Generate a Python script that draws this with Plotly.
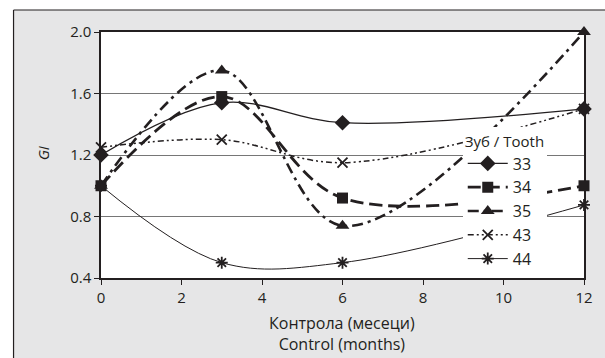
import plotly.graph_objects as go

months = [0, 3, 6, 12]
tooth_names = ["33", "34", "35", "43", "44"]
gi_33 = [1.20, 1.54, 1.41, 1.50]
gi_34 = [1.00, 1.58, 0.92, 1.00]
gi_35 = [1.00, 1.75, 0.74, 2.00]
gi_43 = [1.25, 1.30, 1.15, 1.50]
gi_44 = [1.00, 0.50, 0.50, 0.875]
x_ticks = [0, 2, 4, 6, 8, 10, 12]
y_ticks = [0.4, 0.8, 1.2, 1.6, 2.0]

ink = "#231f20"
gray_bg = "#e6e6e7"
styles = {
    "33": dict(line=dict(color=ink, width=1.3, dash="solid"),
               marker=dict(symbol="diamond", size=12, color=ink)),
    "34": dict(line=dict(color=ink, width=2.8, dash="13px,6px"),
               marker=dict(symbol="square", size=11, color=ink)),
    "35": dict(line=dict(color=ink, width=2.6, dash="11px,5px,3px,5px"),
               marker=dict(symbol="triangle-up", size=12, color=ink)),
    "43": dict(line=dict(color=ink, width=1.5, dash="6px,3px,2px,3px,2px,3px"),
               marker=dict(symbol="x-thin-open", size=10, color=ink, line=dict(width=1.8, color=ink))),
    "44": dict(line=dict(color=ink, width=1.0, dash="solid"),
               marker=dict(symbol="asterisk-open", size=10, color=ink, line=dict(width=1.8, color=ink))),
}
series = [gi_33, gi_34, gi_35, gi_43, gi_44]

fig = go.Figure()
for name, vals in zip(tooth_names, series):
    st = styles[name]
    fig.add_trace(go.Scatter(
        x=months, y=vals, name=name, mode="lines+markers",
        line=dict(shape="spline", smoothing=1.0, **st["line"]),
        marker=st["marker"], cliponaxis=False,
    ))

W, H = 605, 358
OFF = 0  # page body margin removed via post_script
# plot area in screen pixels: x 101..587, y 32..278
L = 101 - OFF
T = 32 - OFF
R = W - (587 - OFF)
B = H - (278 - OFF)
pw, ph = W - L - R, H - T - B

def px_x(p):
    return (p - OFF - L) / pw

def px_y(p):
    return (H - B - (p - OFF)) / ph

font_family = "Open Sans, Noto Sans, sans-serif"

fig.update_layout(
    width=W, height=H,
    margin=dict(l=L, r=R, t=T, b=B),
    paper_bgcolor=gray_bg, plot_bgcolor="white",
    font=dict(family=font_family, size=15, color=ink),
    showlegend=True,
    legend=dict(
        title=dict(text="Зуб / Tooth", font=dict(size=15, color=ink)),
        x=px_x(465), y=px_y(127), xanchor="left", yanchor="top",
        bgcolor="white", borderwidth=0,
        font=dict(size=16, color=ink),
        tracegroupgap=0, itemwidth=40,
    ),
    shapes=[
        # white strips outside the framed gray panel
        dict(type="rect", xref="paper", yref="paper", layer="below",
             x0=px_x(0), x1=px_x(700), y0=px_y(10), y1=px_y(-20),
             fillcolor="white", line=dict(width=0)),
        dict(type="rect", xref="paper", yref="paper", layer="below",
             x0=px_x(-20), x1=px_x(13), y0=px_y(-20), y1=px_y(400),
             fillcolor="white", line=dict(width=0)),
        # frame lines of the gray panel
        dict(type="line", xref="paper", yref="paper", layer="below",
             x0=px_x(13), x1=px_x(700), y0=px_y(10), y1=px_y(10),
             line=dict(color=ink, width=1.2)),
        dict(type="line", xref="paper", yref="paper", layer="below",
             x0=px_x(13), x1=px_x(13), y0=px_y(10), y1=px_y(400),
             line=dict(color=ink, width=1.2)),
    ],
    annotations=[
        dict(text="Контрола (месеци)<br>Control (months)", xref="paper", yref="paper",
             x=px_x(343), y=px_y(333), xanchor="center", yanchor="middle",
             showarrow=False, font=dict(size=16, color=ink)),
        dict(text="<i>GI</i>", xref="paper", yref="paper",
             x=px_x(43), y=px_y(153), xanchor="center", yanchor="middle",
             textangle=-90, showarrow=False, font=dict(size=15, color=ink)),
    ],
)
fig.update_xaxes(
    range=[0, 12], tickvals=x_ticks, ticks="outside", ticklen=5, tickcolor=ink,
    showline=True, linecolor=ink, linewidth=1.5, mirror=True,
    showgrid=False, zeroline=False, tickfont=dict(size=15, color=ink),
)
fig.update_yaxes(
    range=[0.4, 2.0], tickvals=y_ticks, tickformat=".1f", ticks="outside", ticklen=5,
    tickcolor=ink, showline=True, linecolor=ink, linewidth=1.5, mirror=True,
    showgrid=True, gridcolor="#767676", gridwidth=1.3, zeroline=False,
    tickfont=dict(size=15, color=ink),
)

fig.write_html(
    "out.html",
    config={"displayModeBar": False},
    post_script="document.body.style.margin='0';document.body.style.overflow='hidden';",
)
